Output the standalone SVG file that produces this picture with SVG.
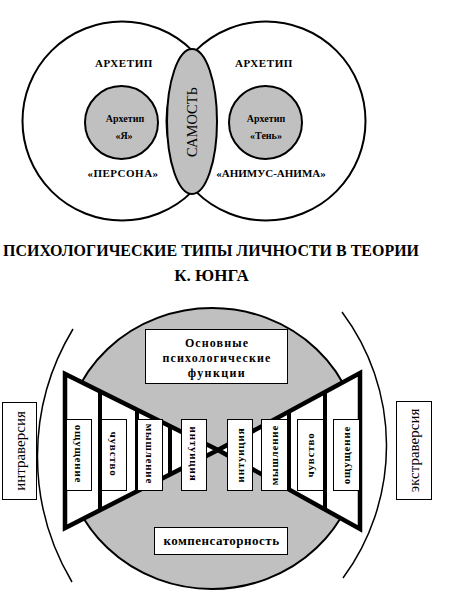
<svg xmlns="http://www.w3.org/2000/svg" width="458" height="600" viewBox="0 0 458 600">
<style>
text{font-family:"Liberation Serif","Times New Roman",serif;fill:#000}
.b{font-weight:bold}
.outer{fill:#fff;stroke:#000;stroke-width:2}
.grey{fill:#c0c0c0;stroke:#000;stroke-width:2}
.box{fill:#fff;stroke:#000;stroke-width:1}
.thick{fill:none;stroke:#000;stroke-width:4.5;stroke-linejoin:miter}
.arc{fill:none;stroke:#000;stroke-width:1.5}
.lbl{font-size:11px;font-weight:bold;letter-spacing:0.8px}
</style>
<rect width="458" height="600" fill="#fff"/>

<!-- top diagram -->
<g id="left-circle">
<circle class="outer" cx="122" cy="121" r="99.5"/>
</g>
<g id="right-circle">
<circle class="outer" cx="266" cy="121" r="99.5"/>
</g>
<g id="archetype-left">
<text class="b" x="124" y="67" font-size="11" text-anchor="middle" letter-spacing="0.6">АРХЕТИП</text>
<text class="b" x="123" y="177" font-size="11" text-anchor="middle" letter-spacing="0.5">«ПЕРСОНА»</text>
</g>
<g id="archetype-right">
<text class="b" x="264" y="67" font-size="11" text-anchor="middle" letter-spacing="0.6">АРХЕТИП</text>
<text class="b" x="271" y="177" font-size="11" text-anchor="middle">«АНИМУС-АНИМА»</text>
</g>
<g id="self">
<ellipse class="grey" cx="192" cy="121.5" rx="25" ry="72.5"/>
<text transform="translate(192,122) rotate(-90)" x="0" y="0" dy="0.35em" font-size="14.5" text-anchor="middle">САМОСТЬ</text>
</g>
<g id="ego">
<circle class="grey" cx="121.5" cy="122.5" r="36.5"/>
<text class="b" x="125" y="122" font-size="10" text-anchor="middle">Архетип</text>
<text class="b" x="124" y="139" font-size="10" text-anchor="middle">«Я»</text>
</g>
<g id="shadow">
<circle class="grey" cx="265.5" cy="122.5" r="36.5"/>
<text class="b" x="266" y="122" font-size="10" text-anchor="middle">Архетип</text>
<text class="b" x="266" y="139" font-size="10" text-anchor="middle">«Тень»</text>
</g>

<!-- title -->
<g id="title">
<text class="b" x="211" y="256" font-size="17" text-anchor="middle" textLength="416" lengthAdjust="spacingAndGlyphs">ПСИХОЛОГИЧЕСКИЕ ТИПЫ ЛИЧНОСТИ В ТЕОРИИ</text>
<text class="b" x="211.5" y="281" font-size="17" text-anchor="middle">К. ЮНГА</text>
</g>

<!-- bottom diagram -->
<g id="functions-field">
<ellipse class="grey" cx="212" cy="448.5" rx="148" ry="140.5"/>
</g>

<g id="connectors">
<path class="arc" d="M73,329 A246,246 0 0 0 72,582"/>
<path class="arc" d="M342,312 A223,223 0 0 1 343,578"/>
<polygon points="65,374 218,450 65,528" fill="#fff"/>
<polygon points="360,373 218,450 360,529" fill="#fff"/>
<path class="thick" d="M218,450 L65,374 L65,528 L218,450" stroke-width="5"/>
<path class="thick" d="M218,450 L360,373 L360,529 L218,450" stroke-width="5"/>
<line x1="100" y1="391" x2="100" y2="510" stroke="#000" stroke-width="4"/>
<line x1="137" y1="410" x2="137" y2="491" stroke="#000" stroke-width="4"/>
<line x1="170" y1="426" x2="170" y2="474" stroke="#000" stroke-width="4"/>
<line x1="289" y1="411" x2="289" y2="490" stroke="#000" stroke-width="4"/>
<line x1="325" y1="392" x2="325" y2="509" stroke="#000" stroke-width="4"/>
</g>

<g id="main-functions">
<rect class="box" x="145.5" y="329.5" width="142" height="54"/>
<text class="b" x="217" y="347" font-size="12" text-anchor="middle" letter-spacing="1.1">Основные</text>
<text class="b" x="217" y="362" font-size="12" text-anchor="middle" letter-spacing="1.1">психологические</text>
<text class="b" x="217" y="377" font-size="12" text-anchor="middle" letter-spacing="1.4">функции</text>
</g>
<g id="compensation">
<rect class="box" x="154.5" y="527.5" width="133" height="27"/>
<text class="b" x="221.5" y="545" font-size="13" text-anchor="middle" letter-spacing="0.5">компенсаторность</text>
</g>

<g id="intro-sensation">
<rect class="box" x="66.5" y="419.5" width="25" height="71"/>
<text class="lbl" transform="translate(79,454) rotate(90)" dy="0.35em" text-anchor="middle">ощущение</text>
</g>
<g id="intro-feeling">
<rect class="box" x="101.5" y="419.5" width="25" height="71"/>
<text class="lbl" transform="translate(114,454) rotate(90)" dy="0.35em" text-anchor="middle">чувство</text>
</g>
<g id="intro-thinking">
<rect class="box" x="137.5" y="419.5" width="25" height="71"/>
<text class="lbl" transform="translate(150,454) rotate(90)" dy="0.35em" text-anchor="middle">мышление</text>
</g>
<g id="intro-intuition">
<rect class="box" x="181.5" y="419.5" width="25" height="71"/>
<text class="lbl" transform="translate(194,454) rotate(90)" dy="0.35em" text-anchor="middle">интуиция</text>
</g>
<g id="extra-intuition">
<rect class="box" x="227.5" y="419.5" width="25" height="71"/>
<text class="lbl" transform="translate(240,455) rotate(-90)" dy="0.35em" text-anchor="middle">интуиция</text>
</g>
<g id="extra-thinking">
<rect class="box" x="261.5" y="419.5" width="26" height="71"/>
<text class="lbl" transform="translate(274.5,455) rotate(-90)" dy="0.35em" text-anchor="middle">мышление</text>
</g>
<g id="extra-feeling">
<rect class="box" x="297.5" y="419.5" width="26" height="71"/>
<text class="lbl" transform="translate(310.5,455) rotate(-90)" dy="0.35em" text-anchor="middle">чувство</text>
</g>
<g id="extra-sensation">
<rect class="box" x="333.5" y="419.5" width="26" height="71"/>
<text class="lbl" transform="translate(346.5,455) rotate(-90)" dy="0.35em" text-anchor="middle">ощущение</text>
</g>

<g id="introversion">
<rect class="box" x="2.5" y="402.5" width="34" height="97"/>
<text transform="translate(19.5,451) rotate(-90)" dy="0.35em" font-size="15" text-anchor="middle">интраверсия</text>
</g>
<g id="extraversion">
<rect class="box" x="396.5" y="401.5" width="35" height="98"/>
<text transform="translate(414,450.5) rotate(-90)" dy="0.35em" font-size="15" text-anchor="middle">экстраверсия</text>
</g>
</svg>
